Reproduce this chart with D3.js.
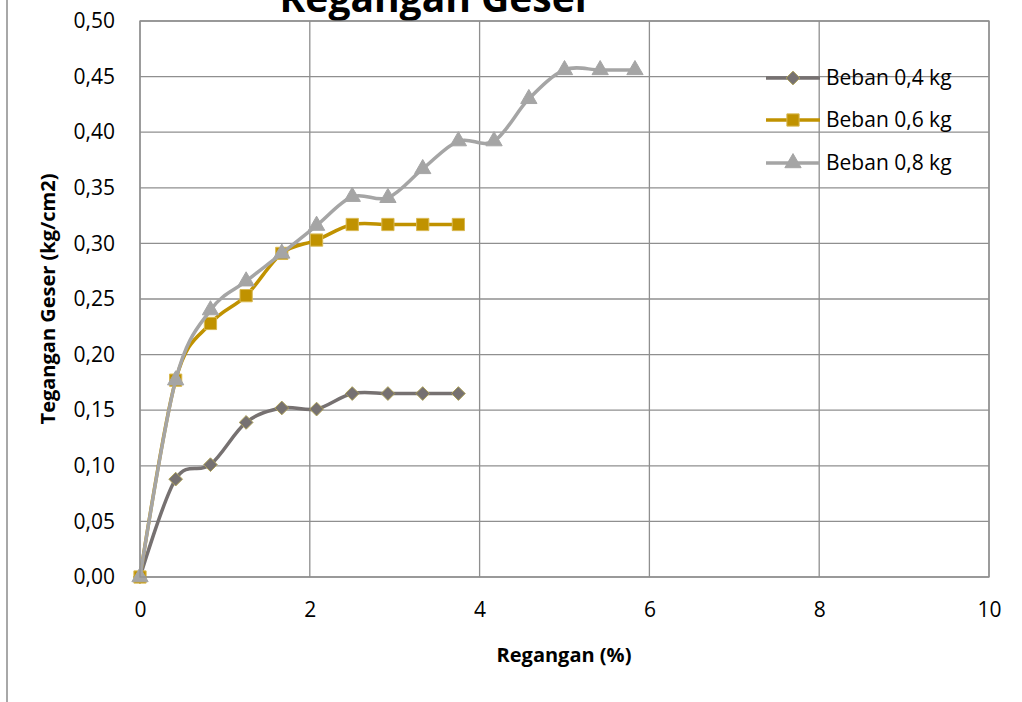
<!DOCTYPE html>
<html>
<head>
<meta charset="utf-8">
<script src="https://cdn.jsdelivr.net/npm/d3@7/dist/d3.min.js"></script>
<style>
  body { margin: 0; background: #fff; }
  svg { display: block; font-family: "Open Sans", "Noto Sans", sans-serif; }
</style>
</head>
<body>
<svg id="chart" width="1022" height="702"></svg>
<script>
// Strain (%) readings
const strain = [0, 0.42, 0.83, 1.25, 1.67, 2.08, 2.5, 2.92, 3.33, 3.75, 4.17, 4.58, 5.0, 5.42, 5.83];

// Shear stress (kg/cm2) per load
const beban04 = [0, 0.088, 0.101, 0.139, 0.152, 0.151, 0.165, 0.165, 0.165, 0.165];
const beban06 = [0, 0.177, 0.228, 0.253, 0.291, 0.303, 0.317, 0.317, 0.317, 0.317];
const beban08 = [0, 0.177, 0.240, 0.266, 0.291, 0.316, 0.342, 0.341, 0.367, 0.392, 0.392, 0.430, 0.456, 0.456, 0.456];

const seriesNames = ["Beban 0,4 kg", "Beban 0,6 kg", "Beban 0,8 kg"];
const xTicks = [0, 2, 4, 6, 8, 10];
const yTicks = [0, 0.05, 0.10, 0.15, 0.20, 0.25, 0.30, 0.35, 0.40, 0.45, 0.50];

const series = [
  { name: seriesNames[0], values: beban04, color: "#767171", marker: "diamond", fill: "#767171", stroke: "#ab9f58" },
  { name: seriesNames[1], values: beban06, color: "#c09200", marker: "square", fill: "#c09200", stroke: "#d8b850" },
  { name: seriesNames[2], values: beban08, color: "#a5a5a5", marker: "triangle", fill: "#a5a5a5", stroke: "#a5a5a5" }
];

const svg = d3.select("#chart");

const plot = { left: 140, right: 989, top: 21, bottom: 577 };

const x = d3.scaleLinear().domain([0, 10]).range([plot.left, plot.right]);
const y = d3.scaleLinear().domain([0, 0.5]).range([plot.bottom, plot.top]);

const fmt = d => d3.format(".2f")(d).replace(".", ",");

// left edge line of the page
svg.append("line")
  .attr("x1", 7).attr("x2", 7)
  .attr("y1", 0).attr("y2", 702)
  .attr("stroke", "#a8a8a8")
  .attr("stroke-width", 2);

// Gridlines
const grid = svg.append("g");
grid.selectAll(".hg").data(yTicks).join("line")
  .attr("x1", plot.left).attr("x2", plot.right)
  .attr("y1", d => y(d)).attr("y2", d => y(d))
  .attr("stroke", "#8f8f8f").attr("stroke-width", 1.3);
grid.selectAll(".vg").data(xTicks).join("line")
  .attr("x1", d => x(d)).attr("x2", d => x(d))
  .attr("y1", plot.top).attr("y2", plot.bottom)
  .attr("stroke", "#8f8f8f").attr("stroke-width", 1.3);

// Axes (labels only)
const yAxis = svg.append("g")
  .attr("transform", `translate(${plot.left},0)`)
  .call(d3.axisLeft(y).tickValues(yTicks).tickFormat(fmt).tickSize(0).tickPadding(25));
yAxis.select(".domain").remove();
yAxis.selectAll("text").attr("font-size", 21).attr("fill", "#000")
  .attr("font-family", "'Open Sans', sans-serif");

const xAxis = svg.append("g")
  .attr("transform", `translate(0,${plot.bottom})`)
  .call(d3.axisBottom(x).tickValues(xTicks).tickFormat(d3.format("d")).tickSize(0).tickPadding(25));
xAxis.select(".domain").remove();
xAxis.selectAll("text").attr("font-size", 21).attr("fill", "#000")
  .attr("font-family", "'Open Sans', sans-serif");

// Titles (chart title is cropped at the top, as in the source image)
svg.append("text")
  .attr("x", 436).attr("y", 12)
  .attr("text-anchor", "middle")
  .attr("font-weight", "bold").attr("font-size", 39)
  .text("Regangan Geser");

svg.append("text")
  .attr("x", 564).attr("y", 662)
  .attr("text-anchor", "middle")
  .attr("font-weight", "bold").attr("font-size", 20)
  .text("Regangan (%)");

svg.append("text")
  .attr("transform", `translate(55,${(plot.top + plot.bottom) / 2}) rotate(-90)`)
  .attr("text-anchor", "middle")
  .attr("font-weight", "bold").attr("font-size", 20)
  .text("Tegangan Geser (kg/cm2)");

// Marker symbols
const symbolFor = {
  diamond: d3.symbol().type(d3.symbolDiamond2).size(120),
  square: d3.symbol().type(d3.symbolSquare).size(150),
  triangle: d3.symbol().type(d3.symbolTriangle).size(115)
};

const line = d3.line()
  .x((d, i) => x(strain[i]))
  .y(d => y(d))
  .curve(d3.curveCatmullRom.alpha(0));

series.forEach(s => {
  const g = svg.append("g");
  g.append("path")
    .attr("d", line(s.values))
    .attr("fill", "none")
    .attr("stroke", s.color)
    .attr("stroke-width", 3.5)
    .attr("stroke-linejoin", "round");
  g.selectAll("path.m").data(s.values).join("path")
    .attr("class", "m")
    .attr("transform", (d, i) => `translate(${x(strain[i])},${y(d)})`)
    .attr("d", symbolFor[s.marker]())
    .attr("fill", s.fill)
    .attr("stroke", s.stroke)
    .attr("stroke-width", 1);
});

// Plot border on top
svg.append("rect")
  .attr("x", plot.left).attr("y", plot.top)
  .attr("width", plot.right - plot.left).attr("height", plot.bottom - plot.top)
  .attr("fill", "none").attr("stroke", "#8f8f8f").attr("stroke-width", 1.3);

// Legend
const legendRows = [78, 120, 163];
const legend = svg.append("g");
series.forEach((s, i) => {
  const ly = legendRows[i];
  legend.append("line")
    .attr("x1", 766).attr("x2", 820)
    .attr("y1", ly).attr("y2", ly)
    .attr("stroke", s.color).attr("stroke-width", 3.5);
  legend.append("path")
    .attr("transform", `translate(793,${ly})`)
    .attr("d", symbolFor[s.marker]())
    .attr("fill", s.fill)
    .attr("stroke", s.stroke)
    .attr("stroke-width", 1);
  legend.append("text")
    .attr("x", 826).attr("y", ly)
    .attr("dy", "0.35em")
    .attr("font-size", 21)
    .text(s.name);
});
</script>
</body>
</html>
